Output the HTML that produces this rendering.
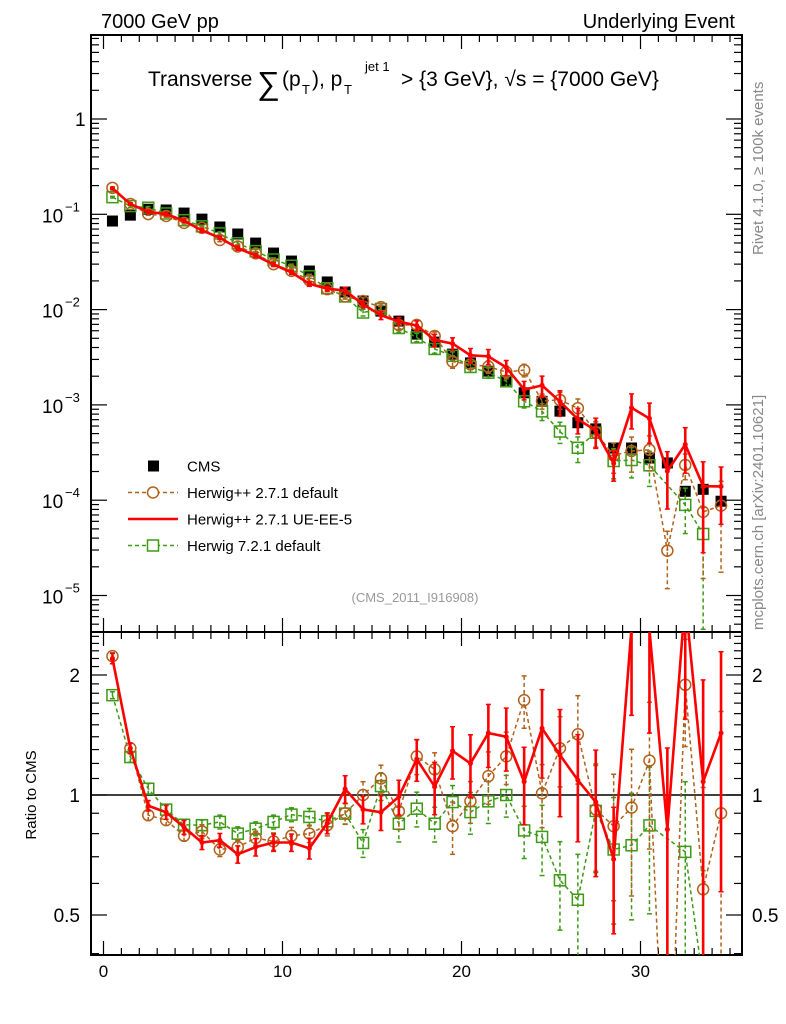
<!DOCTYPE html>
<html><head><meta charset="utf-8"><style>
html,body{margin:0;padding:0;background:#fff;overflow:hidden;width:786px;height:1024px;}
svg{display:block;font-family:"Liberation Sans",sans-serif;}
</style></head><body>
<svg id="chart" width="786" height="1024" viewBox="0 0 786 1024" xmlns="http://www.w3.org/2000/svg">
<text x="101" y="28" font-size="20">7000 GeV pp</text>
<text x="735" y="28" font-size="20" text-anchor="end">Underlying Event</text>
<g font-size="21">
<text x="148" y="86">Transverse</text>
<text x="257" y="94" font-size="32">∑</text>
<text x="282" y="86">(p</text>
<text x="302" y="94" font-size="13">T</text>
<text x="312" y="86">), p</text>
<text x="344" y="94" font-size="13">T</text>
<text x="365" y="71" font-size="13">jet 1</text>
<text x="401" y="86">&gt; {3 GeV}, √s = {7000 GeV}</text>
</g>
<text transform="translate(763,255) rotate(-90)" font-size="15" fill="#888">Rivet 4.1.0, ≥ 100k events</text>
<text transform="translate(763,630) rotate(-90)" font-size="15" fill="#888">mcplots.cern.ch [arXiv:2401.10621]</text>
<text x="415" y="602" font-size="13" fill="#999" text-anchor="middle">(CMS_2011_I916908)</text>
<text transform="translate(36,795) rotate(-90)" font-size="15" text-anchor="middle">Ratio to CMS</text>
<defs>
<clipPath id="cm"><rect x="91" y="35" width="651" height="597"/></clipPath>
<clipPath id="cr"><rect x="91" y="632" width="651" height="323"/></clipPath>
</defs>
<g id="axes"></g>
<g id="mainmarks" clip-path="url(#cm)"></g>
<g id="ratiomarks" clip-path="url(#cr)"></g>
<g id="legend"></g>
</svg>
<script>
const bins = [0.5,1.5,2.5,3.5,4.5,5.5,6.5,7.5,8.5,9.5,10.5,11.5,12.5,13.5,14.5,15.5,16.5,17.5,18.5,19.5,20.5,21.5,22.5,23.5,24.5,25.5,26.5,27.5,28.5,29.5,30.5,31.5,32.5,33.5,34.5];
const cmsValues = [0.085,0.098,0.113,0.111,0.103,0.089,0.0736,0.0621,0.0499,0.0392,0.0323,0.0254,0.0195,0.0153,0.0123,0.00964,0.00757,0.00553,0.00456,0.00341,0.00276,0.00226,0.00177,0.00134,0.00109,0.00086,0.00065,0.00056,0.000353,0.000353,0.000277,0.000246,0.000124,0.00013,0.0000975];
const ratioBrown = [2.23,1.31,0.89,0.865,0.79,0.81,0.73,0.74,0.78,0.765,0.79,0.80,0.84,0.90,1.0,1.10,0.91,1.25,1.16,0.835,0.965,1.115,1.25,1.73,1.01,1.31,1.42,0.92,0.835,0.93,1.22,0.12,1.89,0.58,0.90];
const ratioRed = [2.2,1.31,0.94,0.905,0.83,0.76,0.77,0.71,0.74,0.76,0.76,0.735,0.85,1.035,0.92,0.905,0.99,1.23,1.05,1.29,1.2,1.43,1.40,1.08,1.47,1.26,1.09,0.96,0.69,2.64,2.6,0.82,3.1,1.08,1.43];
const ratioGreen = [1.78,1.245,1.037,0.919,0.842,0.84,0.856,0.80,0.823,0.856,0.893,0.881,0.859,0.898,0.758,1.053,0.847,0.924,0.847,0.96,0.906,0.964,1.0,0.815,0.785,0.611,0.546,0.912,0.73,0.748,0.839,null,0.72,0.34,null];
const errBrown = [0.02,0.03,0.03,0.03,0.03,0.04,0.04,0.04,0.04,0.05,0.05,0.05,0.06,0.06,0.08,0.08,0.1,0.1,0.1,0.15,0.12,0.15,0.15,0.15,0.18,0.2,0.25,0.3,0.35,0.4,0.4,0.6,0.3,0.8,0.8];
const errRed = [0.03,0.03,0.03,0.04,0.04,0.04,0.04,0.05,0.05,0.05,0.05,0.06,0.06,0.08,0.08,0.1,0.1,0.12,0.15,0.15,0.18,0.18,0.18,0.22,0.25,0.3,0.3,0.35,0.35,0.4,0.45,0.6,0.5,0.8,0.6];
const errGreen = [0.02,0.03,0.03,0.03,0.03,0.03,0.04,0.04,0.04,0.04,0.04,0.05,0.05,0.06,0.08,0.08,0.1,0.1,0.1,0.1,0.12,0.12,0.12,0.15,0.2,0.25,0.3,0.3,0.35,0.35,0.4,0,0.5,0.9,0];
const xTickLabels = ["0","10","20","30"];
const ratioTickLabels = ["0.5","1","2"];

const NS="http://www.w3.org/2000/svg";
const X = v => 103.5 + 17.9*v;
const Y = v => 119 - 95.3*Math.log10(v);
const R = r => 795 - 120*Math.log2(r);
function mk(parent, tag, attrs){const e=document.createElementNS(NS,tag);for(const k in attrs)e.setAttribute(k,attrs[k]);parent.appendChild(e);return e;}
const axes=document.getElementById('axes');
const mm=document.getElementById('mainmarks');
const rm=document.getElementById('ratiomarks');
const lg=document.getElementById('legend');

let f1=mk(axes,'rect',{x:91,y:35,width:651,height:597,fill:'none',stroke:'#000','stroke-width':2});


let f2=mk(axes,'rect',{x:91,y:632,width:651,height:323,fill:'none',stroke:'#000','stroke-width':2});



for(let v=0; v<=35; v++){
  const x=X(v), L=(v%10===0)?14:7;
  for(const [y0,d] of [[35,1],[632,-1],[632,1],[955,-1]]){
    mk(axes,'line',{x1:x,x2:x,y1:y0,y2:y0+d*L,stroke:'#000','stroke-width':1.2});
  }
}
xTickLabels.forEach(t=>{
  const tx=mk(axes,'text',{x:X(+t),y:977,'font-size':17,'text-anchor':'middle'});
  tx.textContent=t;
  
  
});
for(let e=-6;e<=0;e++){
  for(let m=1;m<=9;m++){
    const v=m*Math.pow(10,e), y=Y(v);
    if(y<35||y>632) continue;
    const L=m===1?16:8;
    mk(axes,'line',{x1:91,x2:91+L,y1:y,y2:y,stroke:'#000','stroke-width':1.2});
    mk(axes,'line',{x1:742,x2:742-L,y1:y,y2:y,stroke:'#000','stroke-width':1.2});
  }
  const y=Y(Math.pow(10,e));
  if(y<35||y>632) continue;
  const g=mk(axes,'g',{});
  
  
  if(e===0){const t=mk(g,'text',{x:75,y:y+7,'font-size':19});t.textContent='1';}
  else{
    const a=mk(g,'text',{x:42,y:y+8,'font-size':19});a.textContent='10';
    const b=mk(g,'text',{x:65,y:y-3,'font-size':13});b.textContent='−'+(-e);
  }
}
for(let i=4;i<=25;i++){
  const r=i/10, y=R(r);
  if(y<632||y>955) continue;
  const L=(i===5||i===10||i===20)?16:8;
  mk(axes,'line',{x1:91,x2:91+L,y1:y,y2:y,stroke:'#000','stroke-width':1.2});
  mk(axes,'line',{x1:742,x2:742-L,y1:y,y2:y,stroke:'#000','stroke-width':1.2});
}
ratioTickLabels.forEach(t=>{
  const y=R(+t)+7;
  const a=mk(axes,'text',{x:80,y:y,'font-size':19,'text-anchor':'end'});a.textContent=t;
  
  
  const b=mk(axes,'text',{x:752,y:y,'font-size':19});b.textContent=t;
  
  
});
const one=mk(rm,'line',{x1:91,x2:742,y1:R(1),y2:R(1),stroke:'#000','stroke-width':1.5});



function drawSeries(parent, vals, errs, ymap, color, dash, width, marker, name){
  const g=mk(parent,'g',{});
  
  
  let pts=[];
  vals.forEach((v,i)=>{ if(v!==null && v>0) pts.push(X(bins[i])+','+ymap(v)); });
  mk(g,'polyline',{points:pts.join(' '),fill:'none',stroke:color,'stroke-width':width,'stroke-dasharray':dash});
  vals.forEach((v,i)=>{
    if(v===null||v<=0) return;
    const x=X(bins[i]), y=ymap(v), e=errs[i];
    if(e>0){
      const lo=Math.max(v*(1-e),v*0.01), y1=ymap(v*(1+e)), y2=ymap(lo);
      mk(g,'line',{x1:x,x2:x,y1:y1,y2:y2,stroke:color,'stroke-width':width,'stroke-dasharray':dash});
      mk(g,'line',{x1:x-2.5,x2:x+2.5,y1:y1,y2:y1,stroke:color,'stroke-width':1.5});
      mk(g,'line',{x1:x-2.5,x2:x+2.5,y1:y2,y2:y2,stroke:color,'stroke-width':1.5});
    }
    if(marker==='circle') mk(g,'circle',{cx:x,cy:y,r:5.5,fill:'none',stroke:color,'stroke-width':1.5});
    else if(marker==='osquare') mk(g,'rect',{x:x-5.5,y:y-5.5,width:11,height:11,fill:'none',stroke:color,'stroke-width':1.5});
    else if(marker==='dot') mk(g,'circle',{cx:x,cy:y,r:2.5,fill:color});
  });
}
const brownC='#b2611c', greenC='#3c9a14', redC='#ff0000';
const mainBrown=cmsValues.map((c,i)=>ratioBrown[i]===null?null:c*ratioBrown[i]);
const mainRed=cmsValues.map((c,i)=>c*ratioRed[i]);
const mainGreen=cmsValues.map((c,i)=>ratioGreen[i]===null?null:c*ratioGreen[i]);

const cg=mk(mm,'g',{});


cmsValues.forEach((v,i)=>{
  const r=mk(cg,'rect',{x:X(bins[i])-5.5,y:Y(v)-5.5,width:11,height:11,fill:'#000'});
  
  
});
drawSeries(mm,mainGreen,errGreen,Y,greenC,'4,3',1.5,'osquare','herwig721-default-main');
drawSeries(mm,mainBrown,errBrown,Y,brownC,'4,3',1.5,'circle','herwigpp271-default-main');
drawSeries(mm,mainRed,errRed,Y,redC,'none',2.6,'dot','herwigpp271-ueee5-main');

drawSeries(rm,ratioGreen,errGreen,R,greenC,'4,3',1.5,'osquare','herwig721-default-ratio');
drawSeries(rm,ratioBrown,errBrown,R,brownC,'4,3',1.5,'circle','herwigpp271-default-ratio');
drawSeries(rm,ratioRed,errRed,R,redC,'none',2.6,'dot','herwigpp271-ueee5-ratio');

const entries=[['CMS',null],['Herwig++ 2.7.1 default',brownC],['Herwig++ 2.7.1 UE-EE-5',redC],['Herwig 7.2.1 default',greenC]];
entries.forEach((en,i)=>{
  const y=466+26.5*i;
  const g=mk(lg,'g',{});
  
  
  if(i===0) mk(g,'rect',{x:148,y:y-5.5,width:11,height:11,fill:'#000'});
  else{
    mk(g,'line',{x1:128,x2:178,y1:y,y2:y,stroke:en[1],'stroke-width':i===2?2.6:1.5,'stroke-dasharray':i===2?'none':'4,3'});
    if(i===1) mk(g,'circle',{cx:153,cy:y,r:5.5,fill:'#fff',stroke:en[1],'stroke-width':1.5});
    if(i===3) mk(g,'rect',{x:147.5,y:y-5.5,width:11,height:11,fill:'#fff',stroke:en[1],'stroke-width':1.5});
  }
  const t=mk(g,'text',{x:187,y:y+5.5,'font-size':15});t.textContent=en[0];
});
</script>
</body></html>
